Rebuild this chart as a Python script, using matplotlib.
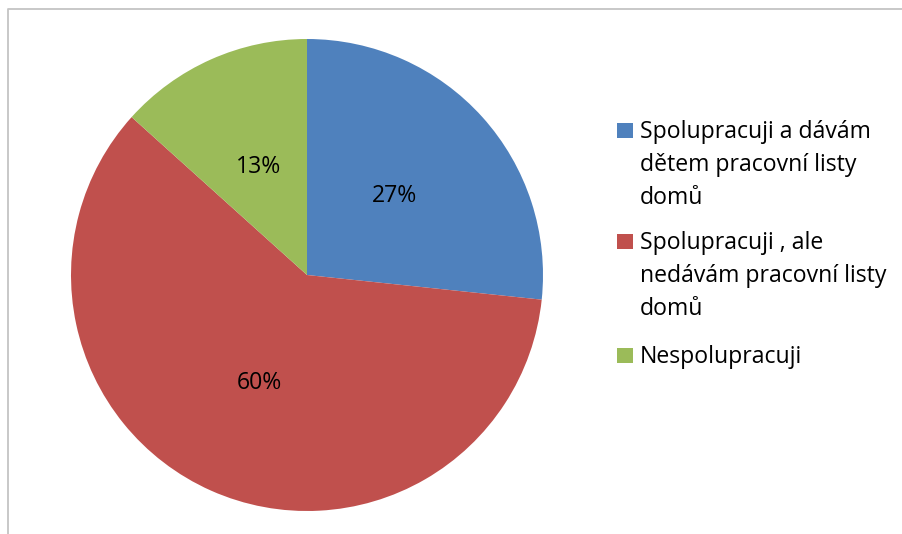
import matplotlib
matplotlib.use('Agg')
import matplotlib.pyplot as plt
from matplotlib.patches import Rectangle
from matplotlib.lines import Line2D

labels = ['Spolupracuji a dávám\ndětem pracovní listy\ndomů',
          'Spolupracuji , ale\nnedávám pracovní listy\ndomů',
          'Nespolupracuji']
counts = [4, 9, 2]   # 27 %, 60 %, 13 %
colors = ['#4F81BD', '#C0504D', '#9BBB59']

W, H = 903, 534
FONT = 'Open Sans'
FS = 16.6

fig = plt.figure(figsize=(W/100, H/100), dpi=100)
fig.patch.set_facecolor('white')

# pie: centre (307, 275) px, radius 236 px
cx, cy, r = 307, 275, 236
ax = fig.add_axes([(cx-r)/W, (H-cy-r)/H, 2*r/W, 2*r/H])
wedges, _, pcts = ax.pie(counts, colors=colors, startangle=90, counterclock=False,
                         autopct=lambda p: f'{p:.0f}%', pctdistance=0.5,
                         wedgeprops=dict(linewidth=0),
                         textprops=dict(fontsize=FS, family=FONT, color='black'))
ax.set_xlim(-1, 1); ax.set_ylim(-1, 1)
ax.set_aspect('auto')
ax.axis('off')

# chart border (only left and top visible in crop)
fig.add_artist(Line2D([8/W, 8/W, 1.01], [-0.01, 1-9/H, 1-9/H], transform=fig.transFigure,
                      color='#C4C4C4', lw=1.3))

# legend, drawn by hand so the marker sits on the first line
baselines = [138, 249, 363]
line_h = 33
for lab, col, yb in zip(labels, colors, baselines):
    fig.add_artist(Rectangle((617/W, 1-yb/H), 16/W, 15/H, transform=fig.transFigure,
                             facecolor=col, edgecolor='none'))
    for i, line in enumerate(lab.split('\n')):
        fig.text(640/W, 1-(yb+i*line_h)/H, line, fontsize=FS, family=FONT,
                 va='baseline', ha='left', color='black')

fig.savefig('out.png', dpi=100, facecolor='white')
